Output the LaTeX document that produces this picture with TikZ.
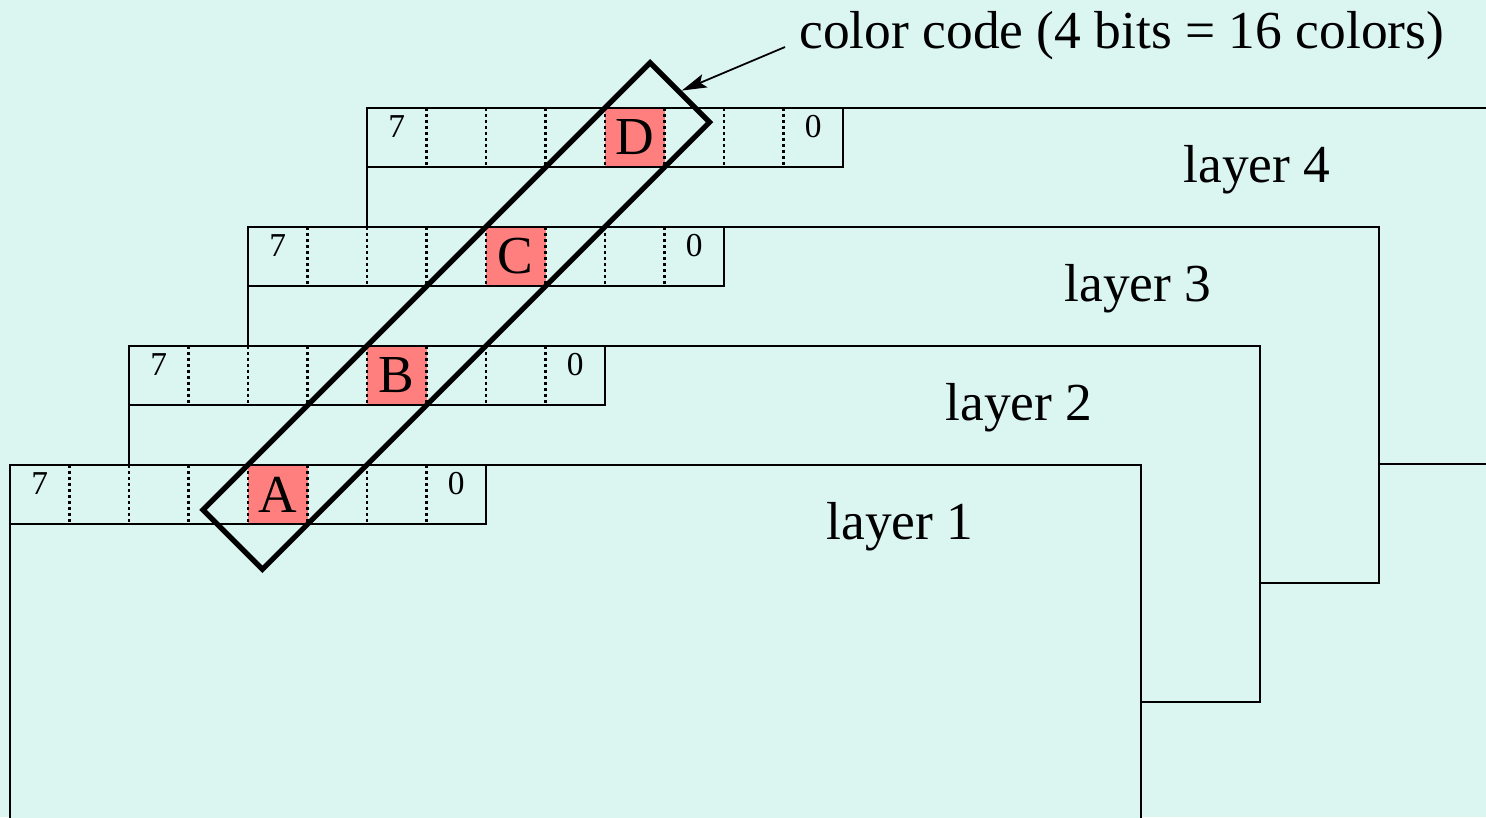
\documentclass[tikz,border=0pt]{standalone}
\usepackage{fontspec}
\setmainfont{Liberation Serif}
\usetikzlibrary{positioning,arrows.meta,calc}
\definecolor{bgmint}{RGB}{219,245,240}
\definecolor{bitred}{RGB}{255,127,127}

\begin{document}
\begin{tikzpicture}[
  x=0.01cm, y=-0.01cm,
  plane/.style={draw, fill=bgmint, line width=0.5pt, minimum width=11.3cm, minimum height=3.56cm, anchor=north west, inner sep=0, outer sep=0},
  bitcell/.style={minimum width=0.595cm, minimum height=0.59cm, inner sep=0, outer sep=0},
  sel/.style={bitcell, fill=bitred, font=\fontsize{15.2}{18}\selectfont},
  sep/.style={line width=0.6pt, dash pattern=on 0.85pt off 0.85pt},
  bitno/.style={font=\fontsize{9.5}{11}\selectfont, yshift=0.11cm},
  tag/.style={font=\fontsize{15.2}{18}\selectfont},
  arr/.style={-{Stealth[length=2.5mm, width=1.4mm, inset=0.5mm]}, line width=0.5pt}
]
\fill[bgmint] (0,0) rectangle (1486,817);
\useasboundingbox (0,0) rectangle (1486,817);
\clip (0,0) rectangle (1486,817);

% planes, back to front
\foreach \k/\t in {4/D,3/C,2/B,1/A} {
  \coordinate (o\k) at ({10+119*(\k-1)},{465-119*(\k-1)});
  \node[plane] (plane\k) at (o\k) {};
  \node[tag] (lbl\k) at ($(o\k)+(890,62)$) {layer \k};
  \foreach \i in {0,...,7}
    \node[bitcell, anchor=north west] (c\k\i) at ($(o\k)+(59.5*\i,0)$) {};
  \node[sel] (bit\k) at (c\k4) {\t};
  \foreach \i in {0,...,6}
    \draw[sep] (c\k\i.north east) -- (c\k\i.south east);
  \draw[line width=0.5pt] (c\k0.north west) rectangle (c\k7.south east);
  \node[bitno] (msb\k) at (c\k0) {7};
  \node[bitno] (lsb\k) at (c\k7) {0};
}

% the 4 bits of one pixel
\node[draw, line width=1.5pt, rotate=45, minimum width=6.32cm, minimum height=0.84cm, inner sep=0] (codebox) at ($(bit1)!0.5!(bit4)$) {};

\node[tag, anchor=west] (code) at (787,36) {color code (4 bits = 16 colors)};
\coordinate (tail) at ($(code.west)+(-2,11)$);
\draw[arr] (tail) -- (codebox.east);
\end{tikzpicture}
\end{document}
